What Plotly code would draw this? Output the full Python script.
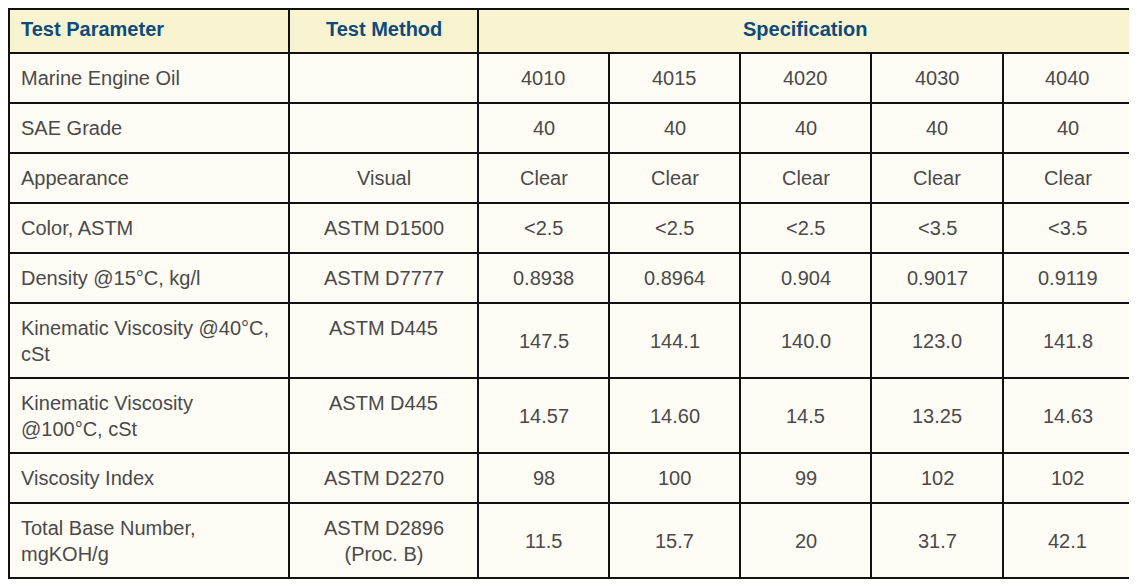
import plotly.graph_objects as go

header_labels = ["Test Parameter", "Test Method", "Specification"]

parameters = [
    "Marine Engine Oil",
    "SAE Grade",
    "Appearance",
    "Color, ASTM",
    "Density @15°C, kg/l",
    "Kinematic Viscosity @40°C,<br>cSt",
    "Kinematic Viscosity<br>@100°C, cSt",
    "Viscosity Index",
    "Total Base Number,<br>mgKOH/g",
]
methods = [
    "",
    "",
    "Visual",
    "ASTM D1500",
    "ASTM D7777",
    "ASTM D445",
    "ASTM D445",
    "ASTM D2270",
    "ASTM D2896<br>(Proc. B)",
]
oil_4010 = ["4010", "40", "Clear", "<2.5", "0.8938", "147.5", "14.57", "98", "11.5"]
oil_4015 = ["4015", "40", "Clear", "<2.5", "0.8964", "144.1", "14.60", "100", "15.7"]
oil_4020 = ["4020", "40", "Clear", "<2.5", "0.904", "140.0", "14.5", "99", "20"]
oil_4030 = ["4030", "40", "Clear", "<3.5", "0.9017", "123.0", "13.25", "102", "31.7"]
oil_4040 = ["4040", "40", "Clear", "<3.5", "0.9119", "141.8", "14.63", "102", "42.1"]

W, H = 1137, 586
OFF = 8          # the page body margin
EDGE = OFF + 1   # first pixel the figure can draw a border on
HEAD_FILL = "#f8f4d2"
BODY_FILL = "#fefcf4"
LINE = "#111111"
HEAD_TEXT = "#0e4a7a"
BODY_TEXT = "#4a4a4a"
FONT = "Liberation Sans, Arial, sans-serif"
FS = 20
LINE_H = 25      # px per text line
PAD_X = 13

col_w = [283, 189, 131, 131, 131, 132, 129]
left0, top0 = 6, 4
head_h = 49

columns = [parameters, methods, oil_4010, oil_4015, oil_4020, oil_4030, oil_4040]

col_x = [left0]
for w in col_w:
    col_x.append(col_x[-1] + w)


def n_lines(s):
    return s.count("<br>") + 1


fig = go.Figure()


def cell(xa, xb, ya, yb, fill):
    # keep the outer border inside the figure
    fig.add_shape(type="rect", xref="x", yref="y",
                  x0=max(xa, EDGE), x1=xb, y0=max(ya, EDGE), y1=yb,
                  fillcolor=fill, line=dict(color=LINE, width=2), layer="below")


def label(x, y, text, anchor, color):
    fig.add_annotation(x=x, y=y, xref="x", yref="y", text=text, showarrow=False,
                       xanchor=anchor, yanchor="middle", align=anchor,
                       font=dict(family=FONT, size=FS, color=color))


# header row: two single cells and one merged "Specification" cell
head_spans = [(col_x[0], col_x[1]), (col_x[1], col_x[2]), (col_x[2], col_x[-1])]
for (xa, xb), txt in zip(head_spans, header_labels):
    cell(xa, xb, top0, top0 + head_h, HEAD_FILL)
    if xa == col_x[0]:
        label(xa + PAD_X, top0 + head_h / 2, f"<b>{txt}</b>", "left", HEAD_TEXT)
    else:
        label((xa + xb) / 2, top0 + head_h / 2, f"<b>{txt}</b>", "center", HEAD_TEXT)

# body rows
y = top0 + head_h
for r in range(len(parameters)):
    row = [c[r] for c in columns]
    lines = max(n_lines(v) for v in row)
    rh = LINE_H * (lines + 1)
    for j, v in enumerate(row):
        xa, xb = col_x[j], col_x[j + 1]
        cell(xa, xb, y, y + rh, BODY_FILL)
        if not v:
            continue
        if j < 2:
            # first two columns sit at the top of the cell
            yc = y + LINE_H / 2 + n_lines(v) * LINE_H / 2
        else:
            yc = y + rh / 2
        if j == 0:
            label(xa + PAD_X, yc, v, "left", BODY_TEXT)
        else:
            label((xa + xb) / 2, yc, v, "center", BODY_TEXT)
    y += rh

# axis units = pixels of the final page
fig.update_xaxes(range=[OFF, W + OFF], visible=False, fixedrange=True)
fig.update_yaxes(range=[H + OFF, OFF], visible=False, fixedrange=True)
fig.update_layout(
    width=W, height=H,
    margin=dict(l=0, r=0, t=0, b=0),
    paper_bgcolor="white",
    plot_bgcolor="white",
    showlegend=False,
)

fig.write_html("out.html")
